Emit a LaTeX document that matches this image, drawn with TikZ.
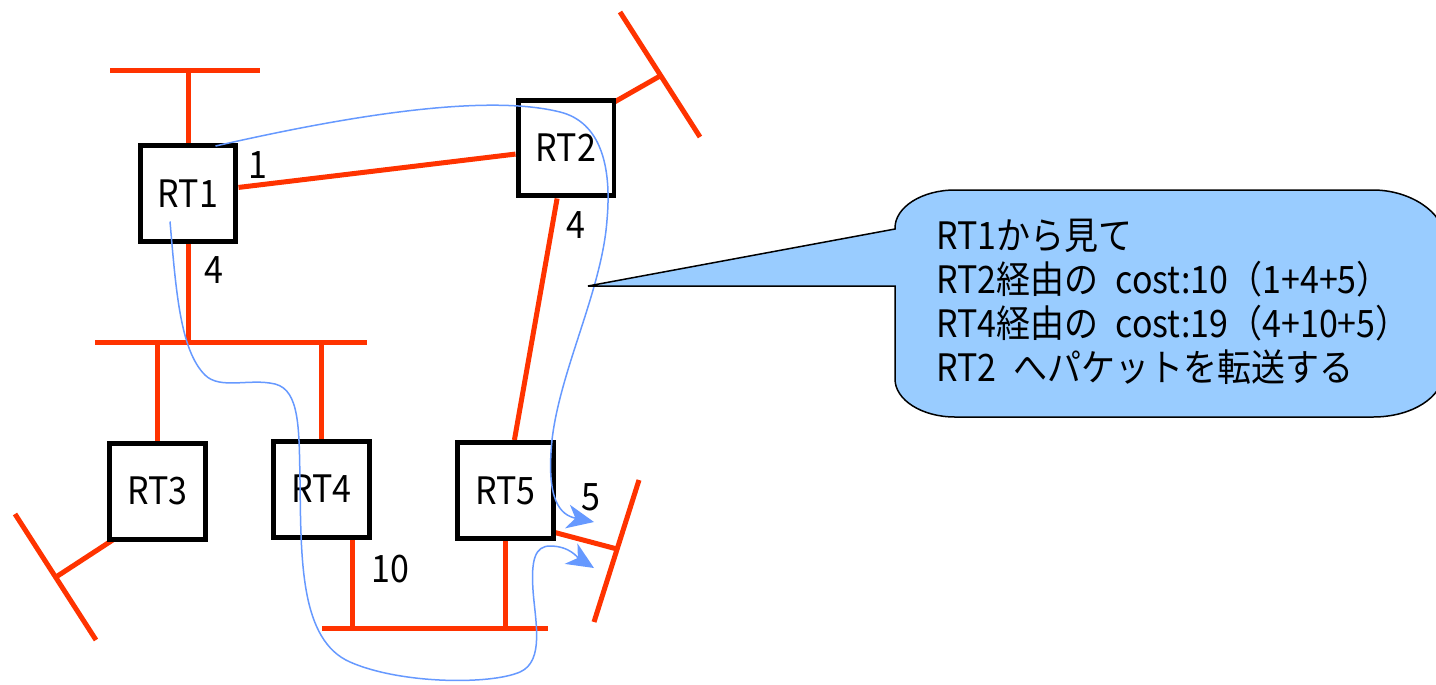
\documentclass[tikz,border=0pt]{standalone}
\usepackage{fontspec}
\setmainfont{Noto Sans CJK JP}[FakeStretch=0.9]
\usetikzlibrary{arrows.meta,calc,backgrounds}
\definecolor{netred}{RGB}{255,51,0}
\definecolor{pathblue}{RGB}{102,153,255}
\definecolor{notefill}{RGB}{153,204,255}
% half-width gap used in the note text
\newcommand{\halfgap}{\hspace{0.34cm}}

\begin{document}
\begin{tikzpicture}[x=0.02cm, y=-0.02cm,
  font=\fontsize{21.5pt}{26pt}\selectfont,
  rtbox/.style={draw=black, line width=0.1cm, fill=white,
    minimum width=1.92cm, minimum height=1.92cm, inner sep=0pt},
  wire/.style={draw=netred, line width=0.1cm},
  route/.style={draw=pathblue, line width=0.03cm,
    -{Stealth[length=0.54cm,width=0.48cm,inset=0.16cm]}},
  cost/.style={inner sep=0pt},
  note/.style={draw=black, line width=0.03cm, fill=notefill},
  noteline/.style={anchor=base west, inner sep=0pt}]

\useasboundingbox (0,0) rectangle (1436,684);

% routers
\node[rtbox] (RT1) at (188,193.5) {RT1};
\node[rtbox] (RT2) at (566,148) {RT2};
\node[rtbox] (RT3) at (157.5,491) {RT3};
\node[rtbox] (RT4) at (321.5,489) {RT4};
\node[rtbox] (RT5) at (505.5,490.5) {RT5};

% link costs
\node[cost] (c12) at (258,165) {1};
\node[cost] (c13) at (213.5,270) {4};
\node[cost] (c25) at (576,225) {4};
\node[cost] (c45) at (390,569) {10};
\node[cost] (c5)  at (591,497) {5};

% network segments and links
\begin{scope}[on background layer]
  \fill[white] (0,0) rectangle (1436,684);
  % top segment on RT1
  \coordinate (tbL) at (110,70);
  \coordinate (tbR) at (260,70);
  \draw[wire] (tbL) -- (tbR);
  \draw[wire] (RT1.north) -- (RT1.north |- tbL);
  % RT1 -- RT2
  \draw[wire] (RT1) -- (RT2);
  % middle segment
  \coordinate (mbL) at (95,342);
  \coordinate (mbR) at (367,342);
  \draw[wire] (mbL) -- (mbR);
  \draw[wire] (RT1.south) -- (RT1.south |- mbL);
  \draw[wire] (RT3.north) -- (RT3.north |- mbL);
  \draw[wire] (RT4.north) -- (RT4.north |- mbL);
  % RT2 -- RT5
  \draw[wire] (RT2) -- (RT5);
  % bottom segment
  \coordinate (bbL) at (322,628);
  \coordinate (bbR) at (548,628);
  \coordinate (r4drop) at (352,628);
  \draw[wire] (bbL) -- (bbR);
  \draw[wire] (r4drop |- RT4.south) -- (r4drop);
  \draw[wire] (RT5.south) -- (RT5.south |- bbL);
  % stub segment on RT2
  \coordinate (t2a) at (620,12);
  \coordinate (t2b) at (700,137);
  \coordinate (t2m) at (660,76);
  \draw[wire] (t2a) -- (t2b);
  \draw[wire] ($(RT2.north east)+(-3,5)$) -- (t2m);
  % stub segment on RT3
  \coordinate (t3a) at (15,514);
  \coordinate (t3b) at (96,640);
  \coordinate (t3m) at (56,577);
  \draw[wire] (t3a) -- (t3b);
  \draw[wire] ($(RT3.south west)+(8,-3)$) -- (t3m);
  % stub segment on RT5
  \coordinate (t5a) at (639,480);
  \coordinate (t5b) at (594,622);
  \coordinate (t5m) at (617,549);
  \draw[wire] (t5a) -- (t5b);
  \draw[wire] ($(RT5.south east)+(-3,-9)$) -- (t5m);
\end{scope}

% candidate routes from RT1
\coordinate (viaRT2) at (594,522);
\coordinate (viaRT4) at (594,568);
\draw[route] ($(RT1.north east)+(-23,3)$)
  .. controls (330,120) and (480,92) .. (560,112)
  .. controls (600,122) and (612,165) .. (607,220)
  .. controls (602,290) and (560,370) .. (552,440)
  .. controls (546,500) and (560,515) .. (viaRT2);
\draw[route] ($(RT1.center)+(-18,28)$)
  .. controls (176,290) and (180,350) .. (205,375)
  .. controls (220,390) and (250,378) .. (275,384)
  .. controls (300,390) and (299,430) .. (300,480)
  .. controls (301,560) and (300,640) .. (350,662)
  .. controls (400,684) and (490,685) .. (520,672)
  .. controls (545,661) and (535,620) .. (533,590)
  .. controls (531,560) and (535,546) .. (550,546)
  .. controls (570,546) and (578,558) .. (viaRT4);

% callout
\begin{scope}
  \clip (0,0) rectangle (1436,684);
  \draw[note] (588,286) coordinate (tip) -- (895,229) -- (895,228)
    .. controls (895,207) and (922,190) .. (955,190) -- (1373,190)
    .. controls (1412,190) and (1443,214) .. (1443,234) -- (1443,373)
    .. controls (1443,397) and (1412,417) .. (1373,417) -- (955,417)
    .. controls (922,417) and (895,400) .. (895,379) -- (895,286) -- cycle;
\end{scope}
\node[noteline] (n1) at (936,249.5) {RT1から見て};
\node[noteline] (n2) at (936,293.5) {RT2経由の\halfgap cost:10（1+4+5）};
\node[noteline] (n3) at (936,337.5) {RT4経由の\halfgap cost:19（4+10+5）};
\node[noteline] (n4) at (936,381.5) {RT2\halfgap へパケットを転送する};

\end{tikzpicture}
\end{document}
